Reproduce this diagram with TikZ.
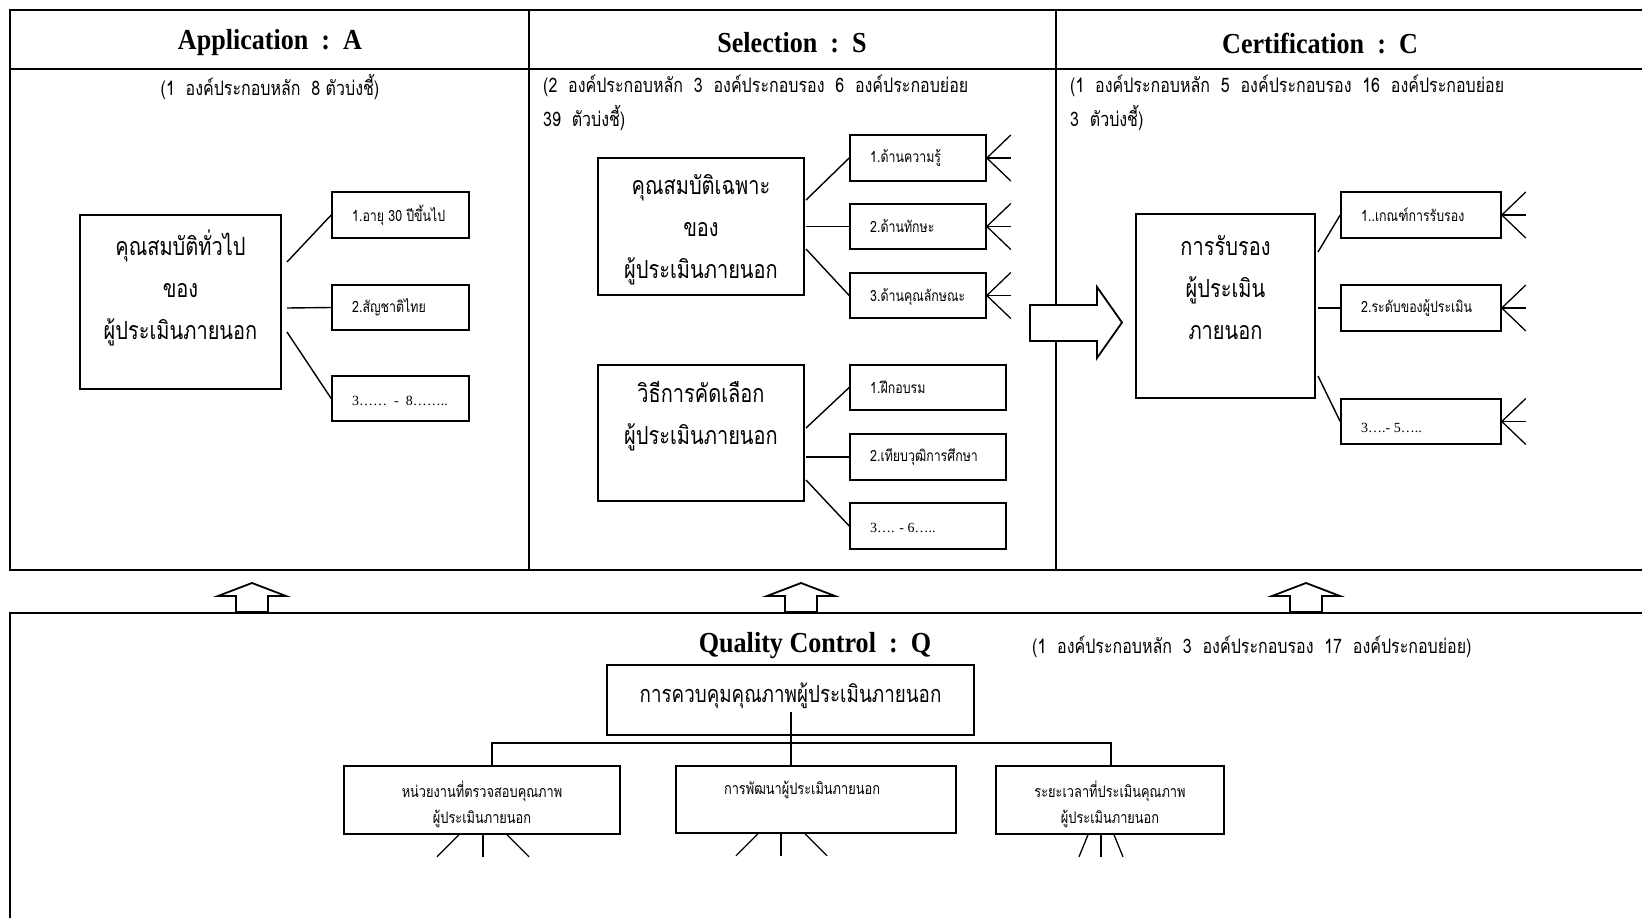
\documentclass[tikz,border=0pt]{standalone}
\usepackage{fontspec}
\usetikzlibrary{calc}
\setmainfont{Liberation Serif}
\newfontfamily\thai[Script=Thai,FakeStretch=0.8]{Loma}
\newfontfamily\ttl[FakeStretch=0.9]{Liberation Serif}
\tikzset{
  frameline/.style={line width=2pt},
  bigbox/.style={draw, line width=1.8pt, inner sep=0pt, fill=white},
  smallbox/.style={draw, line width=1.6pt, inner sep=0pt},
  conn/.style={line width=1.4pt},
  fan/.style={line width=1.3pt},
  ttltxt/.style={font=\ttl\bfseries\fontsize{29}{32}\selectfont, inner sep=0pt},
  subtxt/.style={font=\thai\fontsize{20}{34}\selectfont, inner sep=0pt, align=left},
  bigtxt/.style={font=\thai\fontsize{25}{42}\selectfont, inner sep=0pt, align=center},
  smalltxt/.style={font=\thai\fontsize{15.5}{26}\selectfont, inner sep=0pt, anchor=west},
  dottxt/.style={font=\fontsize{14}{18}\selectfont, inner sep=0pt, anchor=west},
  qtxt/.style={font=\thai\fontsize{16}{26}\selectfont, inner sep=0pt, align=center},
  hollow/.style={draw, line width=1.8pt, fill=white, line join=miter},
}
\begin{document}
\begin{tikzpicture}[x=1pt,y=-1pt]
\useasboundingbox (0,0) rectangle (1642,918);
\clip (0,0) rectangle (1642,918);
% ---------- top frame ----------
\draw[frameline] (1660,10) -- (10,10) -- (10,570) -- (1660,570);
\draw[frameline] (10,69) -- (1660,69);
\draw[line width=1.6pt] (529,10) -- (529,570);
\draw[line width=1.6pt] (1056,10) -- (1056,570);
% titles
\node[ttltxt] (tA) at (270,43) {Application\ \ :\ \ A};
\node[ttltxt] (tS) at (792,43) {Selection\ \ :\ \ S};
\node[ttltxt] (tC) at (1320,43) {Certification\ \ :\ \ C};
% subtitles
\node[subtxt, anchor=center] (subA) at (270,87) {(1\ \ องค์ประกอบหลัก\ \ 8 ตัวบ่งชี้)};
\node[subtxt, anchor=north west] (subS) at (543,75) {(2\ \ องค์ประกอบหลัก\ \ 3\ \ องค์ประกอบรอง\ \ 6\ \ องค์ประกอบย่อย\\39\ \ ตัวบ่งชี้)};
\node[subtxt, anchor=north west] (subC) at (1070,75) {(1\ \ องค์ประกอบหลัก\ \ 5\ \ องค์ประกอบรอง\ \ 16\ \ องค์ประกอบย่อย\\3\ \ ตัวบ่งชี้)};
% ---------- Application ----------
\node[bigbox, minimum width=201pt, minimum height=174pt] (A) at (180.5,302) {};
\node[bigtxt] (At) at (180.5,287.5) {คุณสมบัติทั่วไป\\ของ\\ผู้ประเมินภายนอก};
\node[smallbox, minimum width=137pt, minimum height=46pt] (a1) at (400.5,215) {};
\node[smallbox, minimum width=137pt, minimum height=45pt] (a2) at (400.5,307.5) {};
\node[smallbox, minimum width=137pt, minimum height=45pt] (a3) at (400.5,398.5) {};
\node[smalltxt] (a1t) at (352,215) {1.อายุ 30 ปีขึ้นไป};
\node[smalltxt] (a2t) at (352,307.5) {2.สัญชาติไทย};
\node[dottxt] (a3t) at (352,401) {3…… \ - \ 8……..};
\coordinate (As1) at (287,262);
\coordinate (As2) at (287,308);
\coordinate (As3) at (287,332);
\draw[conn] (As1) -- (a1.west);
\draw[conn] (As2) -- (a2.west);
\draw[conn] (As3) -- (a3.west);
% ---------- Selection ----------
\node[bigbox, minimum width=206pt, minimum height=137pt] (S1) at (701,226.5) {};
\node[bigtxt] (S1t) at (701,230) {คุณสมบัติเฉพาะ\\ของ\\ผู้ประเมินภายนอก};
\node[smallbox, minimum width=136pt, minimum height=46pt] (s1) at (918,158) {};
\node[smallbox, minimum width=136pt, minimum height=45pt] (s2) at (918,226.5) {};
\node[smallbox, minimum width=136pt, minimum height=45pt] (s3) at (918,295.5) {};
\node[smalltxt] (s1t) at (870,158) {1.ด้านความรู้};
\node[smalltxt] (s2t) at (870,226.5) {2.ด้านทักษะ};
\node[smalltxt] (s3t) at (870,297) {3.ด้านคุณลักษณะ};
\coordinate (Ss1) at (806,200);
\coordinate (Ss2) at (806,226.5);
\coordinate (Ss3) at (806,249);
\draw[conn] (Ss1) -- (s1.west);
\draw[conn] (Ss2) -- (s2.west);
\draw[conn] (Ss3) -- (s3.west);
\foreach \n in {s1,s2,s3}{
  \draw[fan] ($(\n.east)+(24,-23)$) -- (\n.east) -- ($(\n.east)+(24,23)$);
  \draw[fan] (\n.east) -- ($(\n.east)+(24,0)$);
}
\node[bigbox, minimum width=206pt, minimum height=136pt] (S2) at (701,433) {};
\node[bigtxt] (S2t) at (701,416) {วิธีการคัดเลือก\\ผู้ประเมินภายนอก};
\node[smallbox, minimum width=156pt, minimum height=45pt] (t1) at (928,387.5) {};
\node[smallbox, minimum width=156pt, minimum height=46pt] (t2) at (928,457) {};
\node[smallbox, minimum width=156pt, minimum height=46pt] (t3) at (928,526) {};
\node[smalltxt] (t1t) at (870,387.5) {1.ฝึกอบรม};
\node[smalltxt] (t2t) at (870,457) {2.เทียบวุฒิการศึกษา};
\node[dottxt] (t3t) at (870,528) {3…. - 6…..};
\coordinate (Ts1) at (806,428);
\coordinate (Ts2) at (806,457);
\coordinate (Ts3) at (806,480);
\draw[conn] (Ts1) -- (t1.west);
\draw[conn] (Ts2) -- (t2.west);
\draw[conn] (Ts3) -- (t3.west);
% ---------- big arrow ----------
\draw[hollow] (1030,305) -- (1097,305) -- (1097,287) -- (1122,322.5) -- (1097,358) -- (1097,341) -- (1030,341) -- cycle;
% ---------- Certification ----------
\node[bigbox, minimum width=179pt, minimum height=184pt] (C) at (1225.5,306) {};
\node[bigtxt] (Ct) at (1225.5,287.5) {การรับรอง\\ผู้ประเมิน\\ภายนอก};
\node[smallbox, minimum width=160pt, minimum height=46pt] (c1) at (1421,215) {};
\node[smallbox, minimum width=160pt, minimum height=46pt] (c2) at (1421,308) {};
\node[smallbox, minimum width=160pt, minimum height=45pt] (c3) at (1421,421.5) {};
\node[smalltxt] (c1t) at (1361,215) {1..เกณฑ์การรับรอง};
\node[smalltxt] (c2t) at (1361,308) {2.ระดับของผู้ประเมิน};
\node[dottxt] (c3t) at (1361,428) {3….- 5…..};
\coordinate (Cs1) at (1318,252);
\coordinate (Cs2) at (1318,308);
\coordinate (Cs3) at (1318,376);
\draw[conn] (Cs1) -- (c1.west);
\draw[conn] (Cs2) -- (c2.west);
\draw[conn] (Cs3) -- (c3.west);
\foreach \n in {c1,c2,c3}{
  \draw[fan] ($(\n.east)+(24,-23)$) -- (\n.east) -- ($(\n.east)+(24,23)$);
  \draw[fan] (\n.east) -- ($(\n.east)+(24,0)$);
}
% ---------- bottom frame ----------
\draw[frameline] (1660,613) -- (10,613) -- (10,930);
% up arrows
\foreach \cx/\nm in {252/u1, 801/u2, 1306/u3}{
  \draw[hollow] (\cx-16,612) -- (\cx-16,596) -- (\cx-34,596) -- (\cx,583) -- (\cx+34,596) -- (\cx+16,596) -- (\cx+16,612) -- cycle;
  \coordinate (\nm) at (\cx,612);
}
% QC
\node[ttltxt] (tQ) at (815,646) {Quality Control\ \ :\ \ Q};
\node[subtxt, anchor=west] (subQ) at (1032,647) {(1\ \ องค์ประกอบหลัก\ \ 3\ \ องค์ประกอบรอง\ \ 17\ \ องค์ประกอบย่อย)};
\node[bigbox, minimum width=367pt, minimum height=70pt] (Q) at (790.5,700) {};
\node[font=\thai\fontsize{23.5}{28}\selectfont, inner sep=0pt] (Qt) at (790.5,696) {การควบคุมคุณภาพผู้ประเมินภายนอก};
\node[smallbox, minimum width=276pt, minimum height=68pt] (q1) at (482,800) {};
\node[smallbox, minimum width=280pt, minimum height=67pt] (q2) at (816,799.5) {};
\node[smallbox, minimum width=228pt, minimum height=68pt] (q3) at (1110,800) {};
\node[qtxt] (q1t) at (482,804) {หน่วยงานที่ตรวจสอบคุณภาพ\\ผู้ประเมินภายนอก};
\node[qtxt] (q2t) at (802,790) {การพัฒนาผู้ประเมินภายนอก};
\node[qtxt] (q3t) at (1110,804) {ระยะเวลาที่ประเมินคุณภาพ\\ผู้ประเมินภายนอก};
\coordinate (Qs) at (791,712);
\coordinate (Qh) at (791,743);
\draw[conn] (Qs) -- (Qh) -- (791,766);
\draw[conn] (492,766) -- (492,743) -- (1111,743) -- (1111,766);
% fans below
\foreach \n/\b in {q1/1, q2/-35, q3/-9}{
  \coordinate (\n m) at ($(\n.south)+(\b,0)$);
}
\draw[fan] (q1m) -- ++(0,22);
\draw[fan] ($(q1m)+(-24,0)$) -- ++(-22,22);
\draw[fan] ($(q1m)+(24,0)$) -- ++(22,22);
\draw[fan] (q2m) -- ++(0,22);
\draw[fan] ($(q2m)+(-23,0)$) -- ++(-22,22);
\draw[fan] ($(q2m)+(24,0)$) -- ++(22,22);
\draw[fan] (q3m) -- ++(0,22);
\draw[fan] ($(q3m)+(-13,0)$) -- ++(-9,22);
\draw[fan] ($(q3m)+(13,0)$) -- ++(9,22);
\end{tikzpicture}
\end{document}
